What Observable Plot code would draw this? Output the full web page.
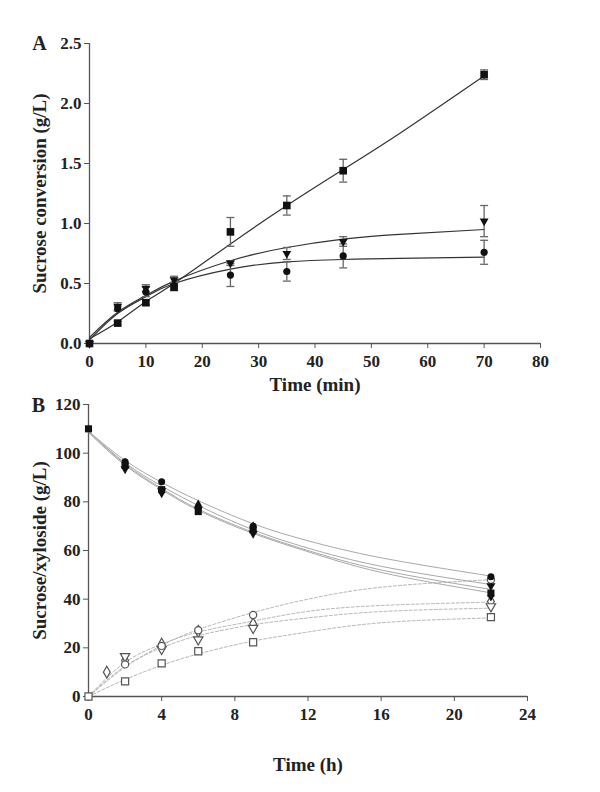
<!DOCTYPE html>
<html>
<head>
<meta charset="utf-8">
<script src="https://cdn.jsdelivr.net/npm/d3@7"></script>
<script src="https://cdn.jsdelivr.net/npm/@observablehq/plot@0.6"></script>
<style>
  html, body { margin: 0; padding: 0; background: #fff; }
  #wrap { position: relative; width: 600px; height: 792px; overflow: hidden; }
  #wrap svg { position: absolute; left: 0; overflow: visible; }
</style>
</head>
<body>
<div id="wrap"></div>
<script>
// ---------- Panel A data ----------
const timesA = [0, 5, 10, 15, 25, 35, 45, 70];
const aSquare = [0, 0.17, 0.34, 0.47, 0.93, 1.15, 1.44, 2.24];
const aSquareErr = [0, 0.015, 0.02, 0.03, 0.12, 0.08, 0.095, 0.04];
const aTriangle = [0, 0.31, 0.46, 0.53, 0.67, 0.75, 0.85, 1.02];
const aTriangleErr = [0, 0.03, 0.03, 0.03, 0.02, 0.05, 0.04, 0.13];
const aCircle = [0, 0.29, 0.43, 0.48, 0.57, 0.60, 0.73, 0.76];
const aCircleErr = [0, 0.02, 0.04, 0.03, 0.095, 0.08, 0.10, 0.10];
// fitted curves
const fitTA = [0, 5, 10, 15, 25, 35, 45, 55, 70];
const fitASquare = [0.04, 0.18, 0.35, 0.50, 0.83, 1.15, 1.45, 1.75, 2.23];
const fitATriangle = [0.05, 0.26, 0.40, 0.52, 0.69, 0.80, 0.87, 0.91, 0.95];
const fitACircle = [0.03, 0.25, 0.39, 0.50, 0.62, 0.68, 0.70, 0.71, 0.72];
const xTicksA = [0, 10, 20, 30, 40, 50, 60, 70, 80];
const yTicksA = [0, 0.5, 1.0, 1.5, 2.0, 2.5];

// ---------- Panel B data ----------
const timesB = [0, 2, 4, 6, 9, 22];
const sucCircle = [110, 96.5, 88.3, 77.5, 70, 49.2];
const sucTriangle = [110, 93.5, 84.5, 77, 67, 45.5];
const sucSquare = [110, 95, 85, 76, 68.5, 42.5];
const sucDiamond = [110, 95.5, 84, 78.5, 69.5, 41.5];
const prodCircle = [0, 13.2, 20.8, 27.2, 33.5, 48];
const prodTriangle = [0, 16.5, 19.5, 23.4, 28.1, 37];
const prodSquare = [0, 6.2, 13.6, 18.6, 22.3, 32.6];
const timesDiamondB = [0, 1, 2, 4, 6, 9, 22];
const prodDiamond = [0, 10, 14.8, 21.5, 26.8, 29.8, 39];
// fitted curves
const fitTB = [0, 2, 4, 6, 9, 12, 16, 22];
const fitSucCircle = [109, 97, 88, 80.5, 71, 64, 57, 49.5];
const fitSucTriangle = [109, 96, 86.5, 78.5, 68.5, 61, 53.5, 46];
const fitSucSquare = [109, 95.5, 85.5, 77, 67.5, 60, 52, 44];
const fitSucDiamond = [108.5, 95, 85, 76.5, 67, 59.5, 51, 42.6];
const fitProdCircle = [0, 12, 21, 27.5, 34.5, 40, 44.9, 48];
const fitProdDiamond = [0, 14, 21.5, 26.5, 31, 35, 37.4, 38.8];
const fitProdTriangle = [0, 12.5, 20, 25, 29.5, 32.3, 34.9, 36.3];
const fitProdSquare = [0, 7, 12.8, 17.5, 22.8, 26.5, 30.3, 32.3];
const xTicksB = [0, 4, 8, 12, 16, 20, 24];
const yTicksB = [0, 20, 40, 60, 80, 100, 120];

// ---------- symbols ----------
const downTri = {
  draw(ctx, size) {
    const s = Math.sqrt(size * 4 / Math.sqrt(3));
    const h = s * Math.sqrt(3) / 2;
    ctx.moveTo(0, 2 * h / 3);
    ctx.lineTo(s / 2, -h / 3);
    ctx.lineTo(-s / 2, -h / 3);
    ctx.closePath();
  }
};
const cap = {
  draw(ctx, size) {
    const w = Math.sqrt(size) / 2;
    ctx.moveTo(-w, 0);
    ctx.lineTo(w, 0);
  }
};

const rows = (ts, vs, es) => ts.map((t, i) => ({t, v: vs[i], e: es ? es[i] : 0}));
const font = "'Liberation Serif', 'Times New Roman', serif";

// ---------- Panel A ----------
const seriesA = [
  {data: rows(timesA, aCircle, aCircleErr), fit: rows(fitTA, fitACircle), symbol: "circle", r: 3.6},
  {data: rows(timesA, aTriangle, aTriangleErr), fit: rows(fitTA, fitATriangle), symbol: downTri, r: 3.3},
  {data: rows(timesA, aSquare, aSquareErr), fit: rows(fitTA, fitASquare), symbol: "square", r: 4.3}
];
const errRowsA = seriesA.flatMap(s => s.data.filter(d => d.e > 0));

const marksA = [
  Plot.ruleX([0], {y1: 0, y2: 2.5, stroke: "#555", strokeWidth: 1.3}),
  Plot.ruleY([0], {x1: 0, x2: 80, stroke: "#555", strokeWidth: 1.3}),
  Plot.axisX({ticks: xTicksA, tickSize: 5, tickPadding: 6, stroke: "#555", fill: "#222", label: null, tickFormat: d => String(d)}),
  Plot.axisY({ticks: yTicksA, tickSize: 5, tickPadding: 3, stroke: "#555", fill: "#222", label: null, tickFormat: d3.format(".1f")}),
  ...seriesA.map(s => Plot.line(s.fit, {x: "t", y: "v", curve: "natural", stroke: "#333", strokeWidth: 1.2})),
  Plot.ruleX(errRowsA, {x: "t", y1: d => d.v - d.e, y2: d => d.v + d.e, stroke: "#666", strokeWidth: 1.3}),
  Plot.dot(errRowsA, {x: "t", y: d => d.v + d.e, symbol: cap, r: 4.5, stroke: "#666", strokeWidth: 1.3, fill: "none"}),
  Plot.dot(errRowsA, {x: "t", y: d => d.v - d.e, symbol: cap, r: 4.5, stroke: "#666", strokeWidth: 1.3, fill: "none"}),
  ...seriesA.map(s => Plot.dot(s.data, {x: "t", y: "v", symbol: s.symbol, r: s.r, fill: "#111", stroke: "none"})),
  Plot.text(["Time (min)"], {frameAnchor: "bottom", dy: 47, fontSize: 19, fontWeight: "bold", fill: "#222"}),
  Plot.text(["Sucrose conversion (g/L)"], {frameAnchor: "left", textAnchor: "middle", dx: -50, rotate: -90, fontSize: 19, fontWeight: "bold", fill: "#222"}),
  Plot.text(["A"], {frameAnchor: "top-left", textAnchor: "middle", dx: -50, dy: -8, fontSize: 20, fontWeight: "bold", fill: "#222"})
];

const plotA = Plot.plot({
  width: 600, height: 392,
  marginTop: 43, marginBottom: 49, marginLeft: 89, marginRight: 60,
  x: {domain: [0, 80]},
  y: {domain: [0, 2.5]},
  style: {fontFamily: font, fontSize: "17px", fontWeight: "bold", background: "transparent", overflow: "visible", color: "#222"},
  marks: marksA
});
plotA.style.top = "0px";

// ---------- Panel B ----------
const sucSeries = [
  {data: rows(timesB, sucDiamond).filter(d => d.t > 0), fit: rows(fitTB, fitSucDiamond), symbol: "diamond", r: 3.7},
  {data: rows(timesB, sucTriangle).filter(d => d.t > 0), fit: rows(fitTB, fitSucTriangle), symbol: downTri, r: 3.4},
  {data: rows(timesB, sucCircle).filter(d => d.t > 0), fit: rows(fitTB, fitSucCircle), symbol: "circle", r: 3.5},
  {data: rows(timesB, sucSquare), fit: rows(fitTB, fitSucSquare), symbol: "square", r: 4.0}
];
const prodSeries = [
  {data: rows(timesDiamondB, prodDiamond).filter(d => d.t > 0), fit: rows(fitTB, fitProdDiamond), symbol: "diamond", r: 3.6},
  {data: rows(timesB, prodTriangle).filter(d => d.t > 0), fit: rows(fitTB, fitProdTriangle), symbol: downTri, r: 3.5},
  {data: rows(timesB, prodCircle).filter(d => d.t > 0), fit: rows(fitTB, fitProdCircle), symbol: "circle", r: 3.6},
  {data: rows(timesB, prodSquare), fit: rows(fitTB, fitProdSquare), symbol: "square", r: 4.0}
];

const marksB = [
  Plot.ruleX([0], {y1: 0, y2: 120, stroke: "#555", strokeWidth: 1.3}),
  Plot.ruleY([0], {x1: 0, x2: 24, stroke: "#555", strokeWidth: 1.3}),
  Plot.axisX({ticks: xTicksB, tickSize: 5, tickPadding: 6, stroke: "#555", fill: "#222", label: null, tickFormat: d => String(d)}),
  Plot.axisY({ticks: yTicksB, tickSize: 5, tickPadding: 3, stroke: "#555", fill: "#222", label: null, tickFormat: d => String(d)}),
  ...prodSeries.map(s => Plot.line(s.fit, {x: "t", y: "v", curve: "natural", stroke: "#b5b5b5", strokeWidth: 1, strokeDasharray: "3,2"})),
  ...sucSeries.map(s => Plot.line(s.fit, {x: "t", y: "v", curve: "natural", stroke: "#a8a8a8", strokeWidth: 1})),
  ...prodSeries.map(s => Plot.dot(s.data, {x: "t", y: "v", symbol: s.symbol, r: s.r, fill: "white", stroke: "#555", strokeWidth: 1.2})),
  ...sucSeries.map(s => Plot.dot(s.data, {x: "t", y: "v", symbol: s.symbol, r: s.r, fill: "#111", stroke: "none"})),
  Plot.text(["Time (h)"], {frameAnchor: "bottom", dy: 74, fontSize: 19, fontWeight: "bold", fill: "#222"}),
  Plot.text(["Sucrose/xyloside (g/L)"], {frameAnchor: "left", textAnchor: "middle", dx: -49, rotate: -90, fontSize: 19, fontWeight: "bold", fill: "#222"}),
  Plot.text(["B"], {frameAnchor: "top-left", textAnchor: "middle", dx: -50, dy: -7, fontSize: 20, fontWeight: "bold", fill: "#222"})
];

const plotB = Plot.plot({
  width: 600, height: 400,
  marginTop: 12, marginBottom: 96, marginLeft: 88, marginRight: 73,
  x: {domain: [0, 24]},
  y: {domain: [0, 120]},
  style: {fontFamily: font, fontSize: "17px", fontWeight: "bold", background: "transparent", overflow: "visible", color: "#222"},
  marks: marksB
});
plotB.style.top = "392px";

const wrap = document.getElementById("wrap");
wrap.appendChild(plotA);
wrap.appendChild(plotB);
</script>
</body>
</html>
